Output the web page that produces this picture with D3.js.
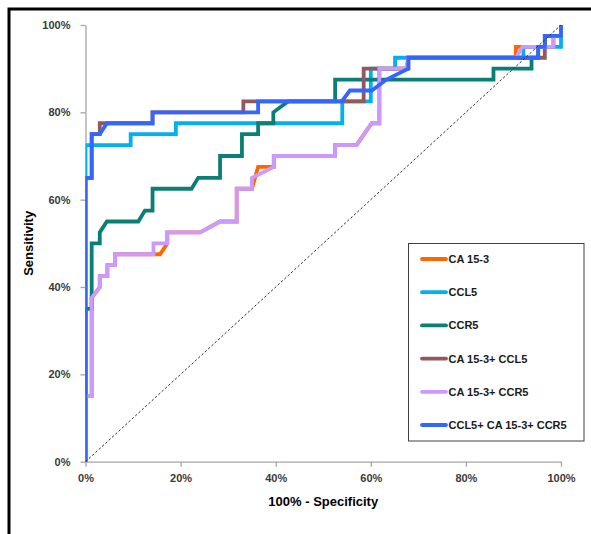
<!DOCTYPE html>
<html>
<head>
<meta charset="utf-8">
<script src="https://cdn.jsdelivr.net/npm/d3@7"></script>
<style>
  body { margin: 0; background: #fff; }
  text { font-family: "Liberation Sans", Arial, sans-serif; }
</style>
</head>
<body>
<div id="roc"></div>
<script>
// points are [100% - specificity, sensitivity], both in percent
var ca153 = [[0,0],[0,15],[1.3,15],[1.3,37.5],[3,40],[3,42.5],[4.6,42.5],[4.6,45],[6.2,45],[6.2,47.5],[15.7,47.5],[17.2,50],[17.2,52.5],[24.1,52.5],[28.3,55],[31.8,55],[31.8,62.5],[35,62.5],[36.3,67.5],[39.6,67.5],[39.6,70],[52.5,70],[52.5,72.5],[57,72.5],[60.2,77.5],[61.8,77.5],[61.8,90],[67.5,90],[67.9,92.5],[90.5,92.5],[90.5,95],[98.4,95],[98.4,97.5],[100,97.5],[100,100]]
var ccl5 = [[0,0],[0,72.5],[9.5,72.5],[9.5,75],[19,75],[19,77.5],[54,77.5],[54,82.5],[60,82.5],[60,90],[65.1,90],[65.1,92.5],[92.1,92.5],[92.1,95],[100,95],[100,100]]
var ccr5 = [[0,0],[0,35],[1.3,35],[1.3,50],[3,50],[3,52.5],[4.5,55],[11.1,55],[12.5,57.5],[14.1,57.5],[14.1,62.5],[22.3,62.5],[23.7,65],[28.3,65],[28.3,70],[32.9,70],[32.9,75],[36.3,75],[36.3,77.5],[39.5,77.5],[39.5,80],[42.6,82.5],[52.5,82.5],[52.5,87.5],[85.8,87.5],[85.8,90],[93.8,90],[93.8,92.5],[95.2,92.5],[95.2,95],[96.6,95],[96.6,97.5],[100,97.5],[100,100]]
var ca153Ccl5 = [[0,0],[0,65],[1.3,65],[1.3,75],[3,75],[3,77.5],[14.1,77.5],[14.1,80],[33.2,80],[33.2,82.5],[58.5,82.5],[58.5,90],[67.9,90],[67.9,92.5],[96.6,92.5],[96.6,97.5],[100,97.5],[100,100]]
var ca153Ccr5 = [[0,0],[0,15],[1.3,15],[1.3,37.5],[3,40],[3,42.5],[4.6,42.5],[4.6,45],[6.2,45],[6.2,47.5],[14.3,47.5],[14.3,50],[17.2,50],[17.2,52.5],[24.1,52.5],[28.3,55],[31.8,55],[31.8,62.5],[35,62.5],[35,65],[39.6,67.5],[39.6,70],[52.5,70],[52.5,72.5],[57,72.5],[60.2,77.5],[61.8,77.5],[61.8,90],[67.5,90],[67.9,92.5],[90.5,92.5],[91.9,95],[98.4,95],[98.4,97.5],[100,97.5],[100,100]]
var ccl5Ca153Ccr5 = [[0,0],[0,65],[1.3,65],[1.3,75],[3,75],[4.5,77.5],[14.1,77.5],[14.1,80],[36.3,80],[36.3,82.5],[53.9,82.5],[55.6,85],[60.2,85],[63.3,87.5],[67.9,90],[67.9,92.5],[95.2,92.5],[95.2,95],[96.6,95],[96.6,97.5],[100,97.5],[100,100]]
var reference = [[0,0],[100,100]]

var seriesNames = ["CA 15-3", "CCL5", "CCR5", "CA 15-3+ CCL5", "CA 15-3+ CCR5", "CCL5+ CA 15-3+ CCR5"]
var seriesData = [ca153, ccl5, ccr5, ca153Ccl5, ca153Ccr5, ccl5Ca153Ccr5]
var tickValues = [0, 20, 40, 60, 80, 100]

var colors = ["#FF6600", "#00B0F0", "#0C7E78", "#93585E", "#CC99FF", "#3366FF"]

var width = 591,
    height = 534

var svg = d3.select("#roc")
  .append("svg")
    .attr("width", width)
    .attr("height", height)

svg.append("rect")
    .attr("width", width)
    .attr("height", height)
    .attr("fill", "#fff")

// heavy frame on the left and top only
svg.append("path")
    .attr("d", "M9," + height + "V9H" + width)
    .attr("fill", "none")
    .attr("stroke", "#000")
    .attr("stroke-width", 3)

var x = d3.scaleLinear().domain([0, 100]).range([85.5, 561])
var y = d3.scaleLinear().domain([0, 100]).range([461.7, 25])

var fmt = function(d) { return d + "%" }

var xAxis = svg.append("g")
    .attr("transform", "translate(0," + y(0) + ")")
    .call(d3.axisBottom(x).tickValues(tickValues).tickFormat(fmt).tickSize(5).tickSizeOuter(0).tickPadding(8))

var yAxis = svg.append("g")
    .attr("transform", "translate(" + x(0) + ",0)")
    .call(d3.axisLeft(y).tickValues(tickValues).tickFormat(fmt).tickSize(5).tickSizeOuter(0).tickPadding(10))

;[xAxis, yAxis].forEach(function(a) {
  a.selectAll("path, line").attr("stroke", "#A6A6A6").attr("stroke-width", 1.3)
  a.selectAll("text")
    .style("font-size", "11px")
    .style("font-weight", "bold")
    .attr("fill", "#3a3a3a")
})

svg.append("text")
    .attr("x", (x(0) + x(100)) / 2)
    .attr("y", 506)
    .attr("text-anchor", "middle")
    .style("font-size", "13px")
    .style("font-weight", "bold")
    .text("100% - Specificity")

svg.append("text")
    .attr("transform", "translate(33," + ((y(0) + y(100)) / 2) + ") rotate(-90)")
    .attr("text-anchor", "middle")
    .style("font-size", "13px")
    .style("font-weight", "bold")
    .text("Sensitivity")

// lines get cut at the left and bottom edge of the plot, like excel does
svg.append("clipPath")
    .attr("id", "plotClip")
  .append("rect")
    .attr("x", x(0))
    .attr("y", 0)
    .attr("width", width - x(0))
    .attr("height", y(0))

var line = d3.line()
    .x(function(d) { return x(d[0]) })
    .y(function(d) { return y(d[1]) })

svg.append("g")
    .attr("clip-path", "url(#plotClip)")
  .selectAll("path")
  .data(seriesData)
  .enter()
  .append("path")
    .attr("d", line)
    .attr("fill", "none")
    .attr("stroke", function(d, i) { return colors[i] })
    .attr("stroke-width", 3.8)

// chance line sits on top of the curves
svg.append("path")
    .datum(reference)
    .attr("d", line)
    .attr("stroke", "#333")
    .attr("stroke-width", 1)
    .attr("stroke-dasharray", "2.5,2")
    .attr("fill", "none")

// legend
var legend = svg.append("g")

legend.append("rect")
    .attr("x", 408.5)
    .attr("y", 243.5)
    .attr("width", 175.5)
    .attr("height", 197.5)
    .attr("fill", "#fff")
    .attr("stroke", "#404040")
    .attr("stroke-width", 1)

var rows = legend.selectAll("g.row")
  .data(seriesNames)
  .enter()
  .append("g")
    .attr("class", "row")
    .attr("transform", function(d, i) { return "translate(0," + (259 + i * 33.2) + ")" })

rows.append("line")
    .attr("x1", 422)
    .attr("x2", 446)
    .attr("stroke", function(d, i) { return colors[i] })
    .attr("stroke-width", 3.8)
    .attr("stroke-linecap", "round")

rows.append("text")
    .attr("x", 448.5)
    .attr("dy", "0.36em")
    .style("font-size", "11px")
    .style("font-weight", "bold")
    .attr("fill", "#1a1a1a")
    .text(function(d) { return d })
</script>
</body>
</html>
